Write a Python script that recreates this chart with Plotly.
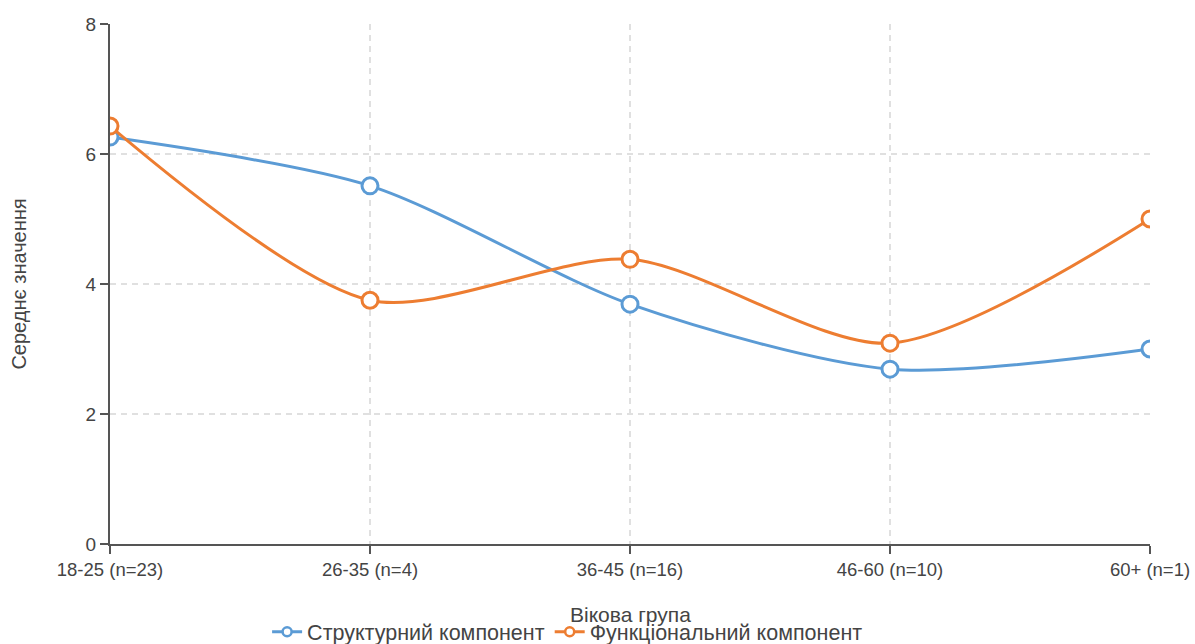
import plotly.graph_objects as go

categories = ["18-25 (n=23)", "26-35 (n=4)", "36-45 (n=16)", "46-60 (n=10)", "60+ (n=1)"]
structural = [6.26, 5.51, 3.69, 2.69, 3.0]
functional = [6.43, 3.75, 4.38, 3.09, 5.0]
series_names = ["Структурний компонент", "Функціональний компонент"]
colors = ["#5b9bd5", "#ed7d31"]

fig = go.Figure()
for name, vals, col in zip(series_names, [structural, functional], colors):
    fig.add_trace(go.Scatter(
        x=categories, y=vals, name=name, mode="lines+markers", showlegend=False,
        line=dict(color=col, width=3, shape="spline", smoothing=0.8),
        marker=dict(symbol="circle", size=16, color="white",
                    line=dict(color=col, width=3)),
    ))
# legend entries with small symbols (as in the reference)
for name, col in zip(series_names, colors):
    fig.add_trace(go.Scatter(
        x=[None], y=[None], name=name, mode="lines+markers", showlegend=True,
        line=dict(color=col, width=3),
        marker=dict(symbol="circle", size=9, color="white", line=dict(color=col, width=2.5)),
    ))

font_family = "Liberation Sans, Arial, sans-serif"
fig.update_layout(
    width=1195, height=644,
    margin=dict(l=110, r=45, t=24, b=100),
    paper_bgcolor="white", plot_bgcolor="white",
    font=dict(family=font_family, size=19, color="#444"),
    showlegend=True,
    legend=dict(orientation="h", x=0.44, xanchor="center",
                yref="container", y=0.019, yanchor="middle",
                font=dict(size=21.5), itemwidth=30, bgcolor="rgba(0,0,0,0)"),
    xaxis=dict(
        type="category", range=[0, 4], automargin=False,
        showline=True, linecolor="#555", linewidth=2,
        ticks="outside", ticklen=8, tickwidth=2, tickcolor="#555",
        showgrid=True, gridcolor="#e0e0e0", griddash="6px,5px", gridwidth=1.5,
        tickfont=dict(size=18.5, color="#444"),
    ),
    yaxis=dict(
        range=[0, 8], dtick=2, automargin=False,
        showline=True, linecolor="#555", linewidth=2,
        ticks="outside", ticklen=8, tickwidth=2, tickcolor="#555",
        showgrid=True, gridcolor="#e0e0e0", griddash="6px,5px", gridwidth=1.5,
        zeroline=False,
        tickfont=dict(size=19, color="#444"),
        title=dict(text="Середнє значення", font=dict(size=20, color="#444"), standoff=54),
    ),
    annotations=[dict(text="Вікова група", xref="paper", x=0.5, xanchor="center",
                      yref="paper", y=-0.136, yanchor="middle", showarrow=False,
                      font=dict(size=21, color="#444"))],
)

fig.write_html("out.html", config={"displayModeBar": False},
               post_script="document.body.style.margin='0';document.body.style.overflow='hidden';")
